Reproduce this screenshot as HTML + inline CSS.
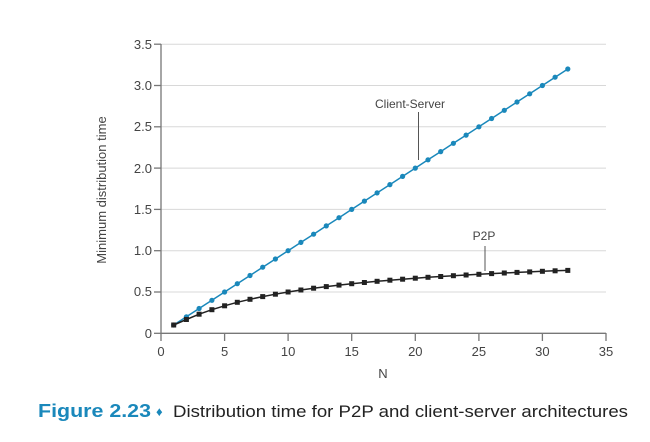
<!DOCTYPE html>
<html><head><meta charset="utf-8"><style>
body{margin:0;background:#fff;width:650px;height:442px;overflow:hidden}
svg{display:block}
text{font-family:"Liberation Sans",sans-serif}
</style></head><body>
<svg width="650" height="442" viewBox="0 0 650 442">
<defs>
<marker id="c" markerWidth="6" markerHeight="6" refX="3" refY="3" markerUnits="userSpaceOnUse"><circle cx="3" cy="3" r="2.6" fill="#1a88bb"/></marker>
<marker id="s" markerWidth="6" markerHeight="6" refX="3" refY="3" markerUnits="userSpaceOnUse"><rect x="0.5" y="0.5" width="5" height="5" fill="#222"/></marker>
</defs>
<g stroke="#d8d8d8" stroke-width="1">
<line x1="161" y1="44.2" x2="606" y2="44.2"/><line x1="161" y1="85.5" x2="606" y2="85.5"/>
<line x1="161" y1="126.8" x2="606" y2="126.8"/><line x1="161" y1="168.1" x2="606" y2="168.1"/>
<line x1="161" y1="209.4" x2="606" y2="209.4"/><line x1="161" y1="250.7" x2="606" y2="250.7"/>
<line x1="161" y1="292" x2="606" y2="292"/>
</g>
<g stroke="#777" stroke-width="1.3">
<line x1="161" y1="44" x2="161" y2="334"/><line x1="161" y1="333.3" x2="606" y2="333.3"/>
<line x1="154" y1="44.2" x2="161" y2="44.2"/><line x1="154" y1="85.5" x2="161" y2="85.5"/>
<line x1="154" y1="126.8" x2="161" y2="126.8"/><line x1="154" y1="168.1" x2="161" y2="168.1"/>
<line x1="154" y1="209.4" x2="161" y2="209.4"/><line x1="154" y1="250.7" x2="161" y2="250.7"/>
<line x1="154" y1="292" x2="161" y2="292"/><line x1="154" y1="333.3" x2="161" y2="333.3"/>
<line x1="161" y1="333" x2="161" y2="341"/><line x1="224.6" y1="333" x2="224.6" y2="341"/>
<line x1="288.1" y1="333" x2="288.1" y2="341"/><line x1="351.7" y1="333" x2="351.7" y2="341"/>
<line x1="415.3" y1="333" x2="415.3" y2="341"/><line x1="478.9" y1="333" x2="478.9" y2="341"/>
<line x1="542.4" y1="333" x2="542.4" y2="341"/><line x1="606" y1="333" x2="606" y2="341"/>
</g>
<g font-size="13" fill="#444" text-anchor="end">
<text x="152" y="49">3.5</text><text x="152" y="90">3.0</text><text x="152" y="131">2.5</text>
<text x="152" y="173">2.0</text><text x="152" y="214">1.5</text><text x="152" y="255">1.0</text>
<text x="152" y="296">0.5</text><text x="152" y="338">0</text>
</g>
<g font-size="13" fill="#444" text-anchor="middle">
<text x="161" y="356">0</text><text x="224.6" y="356">5</text><text x="288.1" y="356">10</text>
<text x="351.7" y="356">15</text><text x="415.3" y="356">20</text><text x="478.9" y="356">25</text>
<text x="542.4" y="356">30</text><text x="606" y="356">35</text>
<text x="383" y="378">N</text>
</g>
<text transform="translate(106,190) rotate(-90)" font-size="13" fill="#444" text-anchor="middle">Minimum distribution time</text>
<polyline fill="none" stroke="#1a88bb" stroke-width="1.5" marker-start="url(#c)" marker-mid="url(#c)" marker-end="url(#c)" points="173.7,325 186.4,316.8 199.1,308.5 211.9,300.3 224.6,292 237.3,283.7 250,275.5 262.7,267.2 275.4,259 288.1,250.7 300.9,242.4 313.6,234.2 326.3,225.9 339,217.7 351.7,209.4 364.4,201.1 377.1,192.9 389.9,184.6 402.6,176.4 415.3,168.1 428,159.8 440.7,151.6 453.4,143.3 466.1,135.1 478.9,126.8 491.6,118.5 504.3,110.3 517,102 529.7,93.8 542.4,85.5 555.1,77.2 567.8,69"/>
<polyline fill="none" stroke="#222" stroke-width="1.5" marker-start="url(#s)" marker-mid="url(#s)" marker-end="url(#s)" points="173.7,325 186.4,319.5 199.1,314.2 211.9,309.7 224.6,305.8 237.3,302.3 250,299.3 262.7,296.6 275.4,294.2 288.1,292 300.9,290 313.6,288.2 326.3,286.6 339,285.1 351.7,283.7 364.4,282.5 377.1,281.3 389.9,280.2 402.6,279.2 415.3,278.2 428,277.3 440.7,276.5 453.4,275.7 466.1,275 478.9,274.3 491.6,273.6 504.3,273 517,272.4 529.7,271.9 542.4,271.3 555.1,270.8 567.8,270.4"/>
<line x1="418.5" y1="112" x2="418.5" y2="160" stroke="#555" stroke-width="1"/>
<text x="410" y="108" font-size="12" fill="#444" text-anchor="middle">Client-Server</text>
<line x1="485" y1="246" x2="485" y2="271" stroke="#555" stroke-width="1"/>
<text x="484" y="240" font-size="12" fill="#444" text-anchor="middle">P2P</text>
<text x="38" y="417" font-size="18" font-weight="bold" fill="#1a88bb" textLength="113" lengthAdjust="spacingAndGlyphs">Figure 2.23</text>
<text x="156" y="416" font-size="13" fill="#1a88bb">♦</text>
<text x="173" y="417" font-size="17" fill="#222" textLength="455" lengthAdjust="spacingAndGlyphs">Distribution time for P2P and client-server architectures</text>
</svg>
</body></html>
